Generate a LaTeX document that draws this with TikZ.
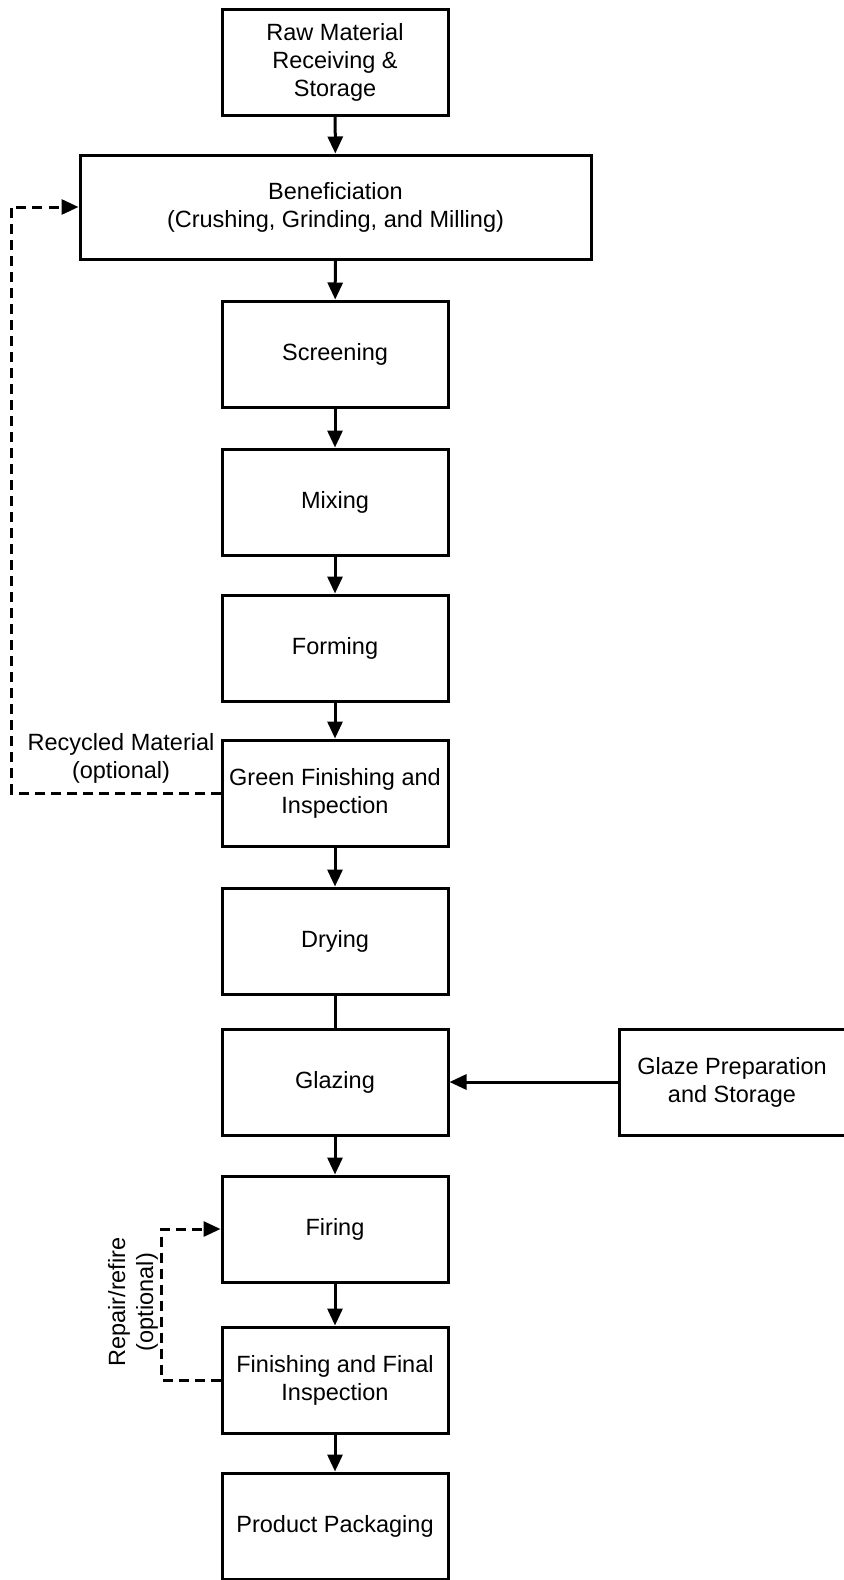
\documentclass[tikz,border=0pt]{standalone}
\usepackage{fontspec}
\setmainfont{Liberation Sans}
\usetikzlibrary{arrows.meta}
\tikzset{
  stage/.style={draw,line width=1.5pt,minimum width=113pt,minimum height=53pt,
    align=center,inner sep=2pt,font=\fontsize{11.75}{14}\selectfont},
  flow/.style={line width=1.5pt,-{Triangle[length=8.5pt,width=7.5pt]}},
  backflow/.style={flow,dash pattern=on 5pt off 3pt},
  note/.style={align=center,font=\fontsize{11.75}{14}\selectfont}
}
\begin{document}
\begin{tikzpicture}[x=0.5pt,y=-0.5pt]
    \useasboundingbox (0,0) rectangle (843,1580);

    \node[stage] (raw) at (335,62) {Raw Material\\Receiving \&\\Storage};
    \node[stage,minimum width=255.5pt,minimum height=52pt] (ben) at (335.5,207)
         {Beneficiation\\(Crushing, Grinding, and Milling)};
    \node[stage] (scr) at (335,354) {Screening};
    \node[stage] (mix) at (335,502) {Mixing};
    \node[stage] (form) at (335,648) {Forming};
    \node[stage] (green) at (335,793) {Green Finishing and\\Inspection};
    \node[stage] (dry) at (335,941) {Drying};
    \node[stage] (glz) at (335,1082) {Glazing};
    \node[stage] (prep) at (732,1082) {Glaze Preparation\\and Storage};
    \node[stage] (fire) at (335,1229) {Firing};
    \node[stage] (fin) at (335,1380) {Finishing and Final\\Inspection};
    \node[stage] (pack) at (335,1526) {Product Packaging};

    \draw[flow] (raw) -- (ben);
    \draw[flow] (ben) -- (scr);
    \draw[flow] (scr) -- (mix);
    \draw[flow] (mix) -- (form);
    \draw[flow] (form) -- (green);
    \draw[flow] (green) -- (dry);
    \draw[line width=1.5pt] (dry) -- (glz);
    \draw[flow] (prep) -- (glz);
    \draw[flow] (glz) -- (fire);
    \draw[flow] (fire) -- (fin);
    \draw[flow] (fin) -- (pack);

    \draw[backflow] (green.west) -- ++(-209,0) |- (ben.west);
    \draw[backflow] (fin.west) -- ++(-59,0) |- (fire.west);

    \node[note] (reclbl) at (121,758) {Recycled Material\\(optional)};
    \node[note,rotate=90] (replbl) at (133,1302) {Repair/refire\\(optional)};
\end{tikzpicture}
\end{document}
